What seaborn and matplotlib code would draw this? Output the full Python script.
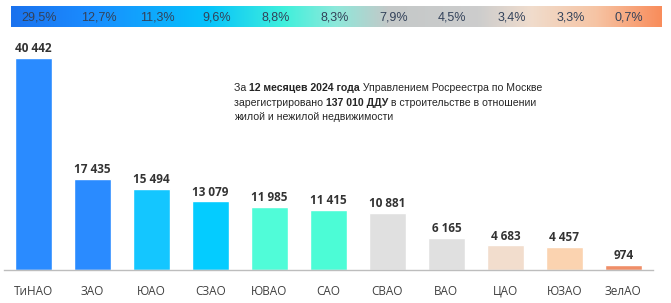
import numpy as np
import pandas as pd
import matplotlib
matplotlib.use("Agg")
import matplotlib.pyplot as plt
import seaborn as sns
from matplotlib.colors import LinearSegmentedColormap
from matplotlib import transforms

# Data
districts = ['ТиНАО', 'ЗАО', 'ЮАО', 'СЗАО', 'ЮВАО', 'САО', 'СВАО', 'ВАО', 'ЦАО', 'ЮЗАО', 'ЗелАО']
contracts = [40442, 17435, 15494, 13079, 11985, 11415, 10881, 6165, 4683, 4457, 974]
shares = ['29,5%', '12,7%', '11,3%', '9,6%', '8,8%', '8,3%', '7,9%', '4,5%', '3,4%', '3,3%', '0,7%']
bar_colors = ['#2a8bff', '#2a8bff', '#14c6ff', '#04ccff', '#50fcd8', '#4cfcd6',
              '#e0e0e0', '#e0e0e0', '#f2ddcd', '#fbd3b0', '#f08e68']

df = pd.DataFrame({'district': districts, 'contracts': contracts})

sns.set_theme(style="white")
plt.rcParams['font.family'] = ['Open Sans', 'DejaVu Sans']

fig = plt.figure(figsize=(6.71, 3.03), dpi=100)
ax = fig.add_axes([0.006, 0.109, 0.967, 0.865])

sns.barplot(data=df, x='district', y='contracts', hue='district', palette=bar_colors,
            legend=False, width=0.62, ax=ax, saturation=1)

ax.set_xlim(-0.5, len(districts) - 0.5)
ax.set_ylim(0, 50000)
ax.set_xlabel('')
ax.set_ylabel('')
ax.set_yticks([])
for side in ['left', 'right', 'top']:
    ax.spines[side].set_visible(False)
ax.spines['bottom'].set_color('#bdbdbd')
ax.spines['bottom'].set_linewidth(1)

# category labels and separator ticks
ax.tick_params(axis='x', which='major', length=0, pad=18, labelsize=8.5, labelcolor='#404040')
for lab in ax.get_xticklabels():
    lab.set_verticalalignment('baseline')
ax.set_xticks(np.arange(len(districts) + 1) - 0.5, minor=True)
ax.tick_params(axis='x', which='minor', length=3, color='#bdbdbd', direction='out')

# value labels
for i, v in enumerate(contracts):
    ax.annotate(f"{v:,}".replace(',', ' '), (i, v), xytext=(0, 2), textcoords='offset points',
                ha='center', va='bottom', fontsize=8.5, fontweight='bold', color='#333333')

# gradient band with shares
band = fig.add_axes([0.0164, 0.911, 0.969, 0.069])
cmap = LinearSegmentedColormap.from_list('band', [
    (0.0, '#1a72ee'), (0.12, '#1a8cff'), (0.3, '#05c2fb'), (0.42, '#40f0dc'),
    (0.5, '#8ee8da'), (0.58, '#c4c8c8'), (0.72, '#cdcdcd'), (0.8, '#f0dccc'),
    (0.9, '#f6c4a4'), (1.0, '#f98d5c')])
band.imshow(np.linspace(0, 1, 256).reshape(1, -1), aspect='auto', cmap=cmap,
            extent=[0, 1, 0, 1])
band.set_axis_off()

trans = transforms.blended_transform_factory(ax.transData, band.transAxes)
for i, s in enumerate(shares):
    fig.text(i + 0.1, 0.45, s, transform=trans, ha='center', va='center',
             fontsize=9, color='#33425a', family=['Liberation Sans', 'DejaVu Sans'])

# note with mixed weights
note_lines = [
    [('За ', 'normal'), ('12 месяцев 2024 года', 'bold'), (' Управлением Росреестра по Москве', 'normal')],
    [('зарегистрировано ', 'normal'), ('137 010 ДДУ', 'bold'), (' в строительстве в отношении', 'normal')],
    [('жилой и нежилой недвижимости', 'normal')],
]
y0 = 0.693
for k, line in enumerate(note_lines):
    prev = None
    for txt, w in line:
        kw = dict(fontsize=7.6, fontweight=w, color='#262626', va='bottom', ha='left',
                  family=['Liberation Sans', 'DejaVu Sans'])
        if prev is None:
            prev = fig.text(0.349, y0 - k * 0.048, txt, **kw)
        else:
            prev = ax.annotate(txt, xy=(1, 0), xycoords=prev, **kw)

fig.savefig('out.png', dpi=100)
